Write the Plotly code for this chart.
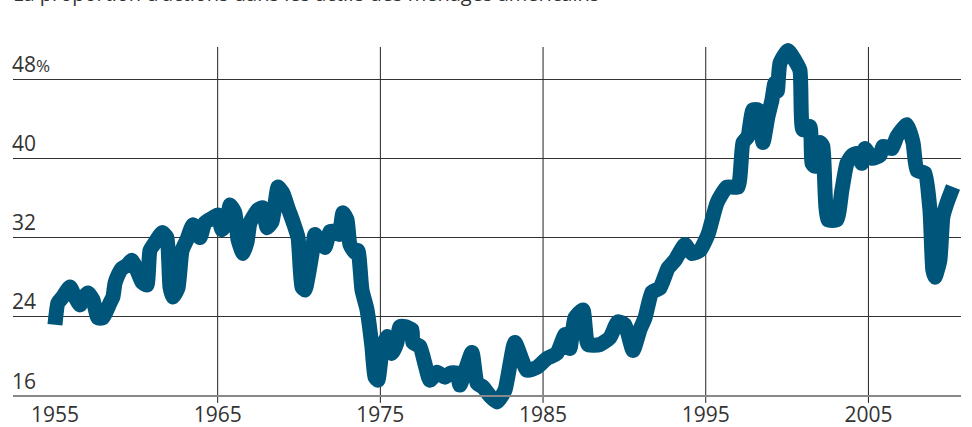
import plotly.graph_objects as go

# Share of equities in US household assets (%)
years = [1955.00, 1955.18, 1955.43, 1955.92, 1956.23, 1956.54, 1956.72, 1957.03, 1957.34, 1957.64,
         1957.95, 1958.38, 1958.56, 1958.69, 1958.87, 1959.12, 1959.43, 1959.73, 1960.04, 1960.35,
         1960.65, 1960.84, 1961.15, 1961.58, 1961.88, 1962.07, 1962.25, 1962.56, 1962.81, 1963.11,
         1963.48, 1963.91, 1964.22, 1964.71, 1965.02, 1965.26, 1965.57, 1965.76, 1966.06, 1966.25,
         1966.56, 1966.80, 1966.99, 1967.48, 1967.78, 1968.03, 1968.34, 1968.52, 1968.71, 1969.01,
         1969.32, 1969.63, 1969.94, 1970.18, 1970.37, 1970.55, 1970.80, 1970.98, 1971.29, 1971.59,
         1971.90, 1972.21, 1972.46, 1972.70, 1972.95, 1973.13, 1973.44, 1973.62, 1973.87, 1974.18,
         1974.48, 1974.67, 1974.85, 1975.10, 1975.41, 1975.71, 1976.02, 1976.20, 1976.51, 1976.94,
         1977.00, 1977.43, 1978.05, 1978.48, 1978.97, 1979.28, 1979.71, 1979.89, 1980.63, 1980.94,
         1981.31, 1981.74, 1982.17, 1982.66, 1983.27, 1984.01, 1984.63, 1985.24, 1985.85, 1986.35,
         1986.65, 1986.96, 1987.45, 1987.76, 1988.50, 1989.11, 1989.60, 1990.03, 1990.53, 1990.96,
         1991.27, 1991.70, 1992.18, 1992.68, 1993.11, 1993.72, 1994.15, 1994.64, 1995.14, 1995.69,
         1996.30, 1996.98, 1997.29, 1997.59, 1997.90, 1998.21, 1998.52, 1998.82, 1999.07, 1999.25,
         1999.40, 1999.56, 2000.05, 2000.48, 2000.79, 2000.97, 2001.40, 2001.53, 2001.71, 2002.02,
         2002.20, 2002.51, 2003.06, 2003.37, 2003.68, 2003.99, 2004.29, 2004.60, 2004.78, 2005.22,
         2005.71, 2005.89, 2006.44, 2006.75, 2007.37, 2007.74, 2007.98, 2008.47, 2008.78, 2008.96,
         2009.09, 2009.39, 2009.58, 2009.83, 2010.20]
share = [23.2, 25.4, 25.9, 27.0, 26.0, 25.2, 25.9, 26.4, 25.7, 23.9,
         23.9, 25.4, 26.0, 27.4, 28.2, 28.9, 29.2, 29.7, 28.7, 27.5,
         27.2, 30.7, 31.5, 32.5, 32.0, 27.0, 26.0, 26.9, 30.7, 31.8,
         33.3, 32.0, 33.5, 34.0, 34.3, 32.8, 33.5, 35.3, 34.5, 31.8,
         30.4, 31.5, 33.5, 34.8, 35.0, 33.0, 33.6, 35.3, 37.1, 36.5,
         35.0, 33.6, 32.0, 27.0, 26.7, 28.0, 30.4, 32.3, 31.5, 31.0,
         32.6, 32.6, 32.3, 34.5, 33.8, 31.3, 30.5, 30.7, 26.7, 24.7,
         21.0, 17.9, 17.6, 20.6, 22.0, 20.3, 21.4, 23.0, 23.0, 22.7,
         21.4, 21.0, 17.6, 18.4, 17.9, 18.3, 18.3, 17.1, 20.4, 17.3,
         16.9, 16.0, 15.4, 16.6, 21.4, 18.6, 18.9, 19.8, 20.3, 22.2,
         20.8, 23.9, 24.7, 21.2, 21.2, 21.9, 23.5, 23.2, 20.6, 22.7,
         23.9, 26.5, 26.9, 28.9, 29.7, 31.3, 30.4, 30.7, 32.3, 35.5,
         37.1, 37.1, 41.6, 42.2, 44.9, 44.9, 41.6, 44.2, 45.9, 47.6,
         46.8, 49.6, 50.9, 49.9, 48.9, 42.9, 43.2, 39.5, 39.2, 41.6,
         41.2, 33.8, 33.8, 36.8, 39.5, 40.3, 40.5, 39.5, 41.0, 40.0,
         40.3, 41.2, 41.0, 42.2, 43.4, 41.6, 38.8, 38.5, 34.8, 28.7,
         28.0, 29.7, 34.1, 35.5, 37.1]

x_ticks = [1955, 1965, 1975, 1985, 1995, 2005]
x_grid = [1965, 1975, 1985, 1995, 2005]
y_ticks = [16, 24, 32, 40, 48]
y_ticktext = ["16", "24", "32", "40", "48<span style='font-size:17px'>%</span>"]
title_text = "La proportion d’actions dans les actifs des ménages américains"

LINE_COLOR = "#00557a"
TEXT_COLOR = "#333333"
FONT = "Open Sans"

fig = go.Figure()
fig.add_trace(go.Scatter(
    x=years, y=share, mode="lines",
    line=dict(color=LINE_COLOR, width=15, shape="spline", smoothing=0.5),
    hoverinfo="skip", showlegend=False,
))

for yr in x_grid:
    fig.add_shape(type="line", xref="x", yref="y", x0=yr, x1=yr, y0=15.3, y1=51.25,
                  line=dict(color="#222222", width=1), layer="below")

fig.add_annotation(text=title_text, xref="paper", yref="paper", x=0, y=1.068,
                   xanchor="left", yanchor="bottom", showarrow=False, xshift=-2,
                   font=dict(family=FONT, size=20, color=TEXT_COLOR))

fig.update_layout(
    width=972, height=427,
    margin=dict(l=13, r=11, t=35, b=12, autoexpand=False),
    paper_bgcolor="white", plot_bgcolor="white",
    font=dict(family=FONT, color=TEXT_COLOR),
    xaxis=dict(range=[1952.42, 2010.69], tickvals=x_ticks, showgrid=False,
               zeroline=False, showline=True, linecolor="#888888", linewidth=2,
               anchor="free", position=0.05, ticks="", automargin=False,
               ticklabelstandoff=0,
               tickfont=dict(family=FONT, size=21, color=TEXT_COLOR)),
    yaxis=dict(range=[14.08, 52.46], tickvals=y_ticks, ticktext=y_ticktext,
               showgrid=True, gridcolor="#333333", gridwidth=1, zeroline=False,
               showline=False, ticks="", ticklabelposition="inside top",
               automargin=False, ticklabelstandoff=-4,
               tickfont=dict(family=FONT, size=21, color=TEXT_COLOR)),
)

fig.write_html("out.html", config={"displayModeBar": False},
               post_script="document.body.style.margin='0';")
